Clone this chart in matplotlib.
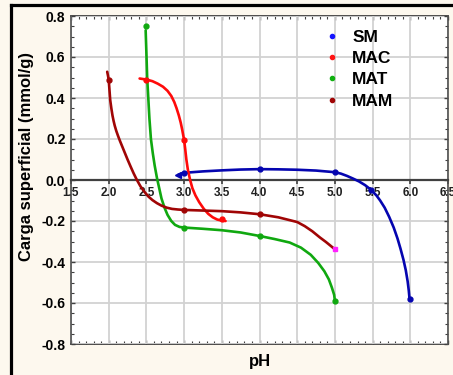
import numpy as np
import matplotlib
matplotlib.use("Agg")
import matplotlib.pyplot as plt
from matplotlib.lines import Line2D
from matplotlib.ticker import MultipleLocator, FormatStrFormatter

plt.rcParams['font.family'] = ['Liberation Sans', 'DejaVu Sans']
plt.rcParams['font.weight'] = 'bold'

# curve traces (pH, carga)
smX = [2.92, 3.0, 3.25, 3.5, 3.75, 4.0, 4.25, 4.5, 4.75, 5.0, 5.08, 5.16, 5.24, 5.32,
       5.4, 5.48, 5.55, 5.6, 5.66, 5.72, 5.78, 5.83, 5.87, 5.91, 5.94, 5.965, 5.98, 5.99]
smY = [0.025, 0.035, 0.042, 0.047, 0.051, 0.053, 0.052, 0.05, 0.046, 0.038, 0.031,
       0.02, 0.007, -0.007, -0.025, -0.048, -0.075, -0.1, -0.135, -0.18, -0.232, -0.285,
       -0.335, -0.39, -0.44, -0.495, -0.54, -0.58]
macX = [2.41, 2.5, 2.58, 2.65, 2.72, 2.78, 2.83, 2.87, 2.9, 2.93, 2.955, 2.975, 2.99,
        3.0, 3.015, 3.03, 3.05, 3.08, 3.11, 3.15, 3.2, 3.26, 3.32, 3.38, 3.44, 3.5, 3.55]
macY = [0.495, 0.49, 0.482, 0.47, 0.455, 0.435, 0.41, 0.38, 0.35, 0.315, 0.28, 0.245,
        0.215, 0.195, 0.15, 0.1, 0.05, 0.0, -0.04, -0.075, -0.108, -0.14, -0.165, -0.182,
        -0.193, -0.198, -0.2]
matX = [2.49, 2.5, 2.51, 2.525, 2.54, 2.56, 2.585, 2.61, 2.64, 2.67, 2.7, 2.74, 2.78,
        2.83, 2.88, 2.94, 3.0, 3.25, 3.5, 3.75, 4.0, 4.2, 4.4, 4.55, 4.68, 4.78, 4.86,
        4.92, 4.96, 4.99, 5.0]
matY = [0.73, 0.62, 0.5, 0.4, 0.3, 0.2, 0.13, 0.07, 0.01, -0.04, -0.09, -0.135, -0.17,
        -0.2, -0.219, -0.229, -0.232, -0.238, -0.245, -0.256, -0.273, -0.288, -0.305,
        -0.33, -0.365, -0.405, -0.445, -0.485, -0.525, -0.56, -0.59]
mamX = [1.98, 1.99, 2.0, 2.01, 2.02, 2.035, 2.05, 2.065, 2.08, 2.1, 2.125, 2.15, 2.18,
        2.21, 2.25, 2.29, 2.33, 2.37, 2.42, 2.47, 2.525, 2.58, 2.64, 2.7, 2.77, 2.84,
        2.92, 3.0, 3.25, 3.5, 3.75, 4.0, 4.25, 4.5, 4.6, 4.7, 4.8, 4.88, 4.94, 4.98, 5.0]
mamY = [0.528, 0.51, 0.49, 0.44, 0.39, 0.35, 0.315, 0.288, 0.265, 0.24, 0.214, 0.19,
        0.163, 0.136, 0.1, 0.066, 0.033, 0.003, -0.03, -0.056, -0.08, -0.098, -0.113,
        -0.125, -0.135, -0.141, -0.144, -0.146, -0.149, -0.152, -0.158, -0.167, -0.182,
        -0.205, -0.225, -0.25, -0.28, -0.302, -0.32, -0.332, -0.338]

# measured points
smPtsX = [3.0, 4.0, 5.0, 5.48, 6.0]
smPtsY = [0.035, 0.053, 0.038, -0.048, -0.58]
macPtsX = [2.5, 3.0, 3.5]
macPtsY = [0.49, 0.195, -0.19]
matPtsX = [2.5, 3.0, 4.0, 5.0]
matPtsY = [0.75, -0.232, -0.273, -0.59]
mamPtsX = [2.0, 3.0, 4.0]
mamPtsY = [0.49, -0.146, -0.167]
mamEndX = [5.0]
mamEndY = [-0.338]

labels = ["SM", "MAC", "MAT", "MAM"]
colors = ["#0505b0", "#ff0a0a", "#10a810", "#a00505"]
legendColors = ["#1515ff", "#ff1515", "#10b010", "#a00505"]

fig = plt.figure(figsize=(4.53, 3.75), dpi=100, facecolor="#fdf8ee")
ax = fig.add_axes([71/453, 1-344/375, 377/453, 328/375])
ax.set_facecolor("white")

series = [(smX, smY, smPtsX, smPtsY), (macX, macY, macPtsX, macPtsY),
          (matX, matY, matPtsX, matPtsY), (mamX, mamY, mamPtsX, mamPtsY)]
for (cx, cy, px, py), c, lc, lab in zip(series, colors, legendColors, labels):
    ax.plot(cx, cy, color=c, lw=1.9, solid_capstyle="round", solid_joinstyle="round",
            zorder=3)
    ax.plot(px, py, "o", color=c, ms=3.5, zorder=4)
    ax.plot([], [], "o", color=lc, ms=3, label=lab)
ax.plot(mamEndX, mamEndY, "s", color="#ff20ff", ms=3.5, zorder=4)
ax.plot([smX[0]], [smY[0]], "<", color=colors[0], ms=4.5, zorder=4)

ax.set_xlim(1.5, 6.5)
ax.set_ylim(-0.8, 0.8)
ax.xaxis.set_major_locator(MultipleLocator(0.5))
ax.xaxis.set_major_formatter(FormatStrFormatter("%.1f"))
ax.yaxis.set_major_locator(MultipleLocator(0.2))
ax.yaxis.set_minor_locator(MultipleLocator(0.05))
ax.yaxis.set_major_formatter(FormatStrFormatter("%.1f"))
ax.grid(True, which="major", color="#d2d2d2", lw=1.3, zorder=0)

# x axis drawn through zero
ax.spines["bottom"].set_position(("data", 0))
ax.spines["bottom"].set_color("#404040")
ax.spines["bottom"].set_linewidth(1.6)
ax.spines["top"].set_visible(False)
for s in ["left", "right"]:
    ax.spines[s].set_color("#505050")
    ax.spines[s].set_linewidth(1.2)
ax.tick_params(axis="x", which="major", direction="out", length=3, width=1.2,
               color="#404040", pad=2, labelsize=8.5, labelcolor="#202020")
ax.tick_params(axis="y", which="both", direction="in", right=True, color="#404040",
               labelsize=10, pad=4)
ax.tick_params(axis="y", which="major", length=3, width=1)
ax.tick_params(axis="y", which="minor", length=2, width=0.8)

# frame lines at top and bottom with minor ticks
for loc in ["top", 0.0]:
    sec = ax.secondary_xaxis(loc)
    sec.xaxis.set_major_locator(MultipleLocator(0.5))
    sec.xaxis.set_minor_locator(MultipleLocator(0.1))
    sec.tick_params(which="both", direction="in", labelbottom=False, labeltop=False,
                    color="#404040")
    sec.tick_params(which="major", length=3, width=1)
    sec.tick_params(which="minor", length=2, width=0.8)
    for s in sec.spines.values():
        s.set_color("#404040")
        s.set_linewidth(1.3)

ax.legend(loc="upper left", bbox_to_anchor=(0.6737, 0.958), frameon=False,
          borderaxespad=0, borderpad=0, handlelength=0.8, handletextpad=0.77,
          labelspacing=0.35,
          prop={"family": ["Liberation Sans Narrow", "Liberation Sans"],
                "size": 12.5, "weight": "bold"})

ax.text(-0.117, 0.572, "Carga superficial (mmol/g)", transform=ax.transAxes,
        rotation=90, ha="center", va="center", fontsize=12, fontweight="bold")
ax.text(0.5, -0.054, "pH", transform=ax.transAxes, ha="center", va="center",
        fontsize=12, fontweight="bold")

fig.add_artist(Line2D([11/453, 11/453], [0, 1-5/375], transform=fig.transFigure,
                      color="black", lw=2.3))
fig.add_artist(Line2D([11/453, 1], [1-5/375, 1-5/375], transform=fig.transFigure,
                      color="black", lw=2.3))

fig.savefig("out.png", dpi=100, facecolor=fig.get_facecolor())
